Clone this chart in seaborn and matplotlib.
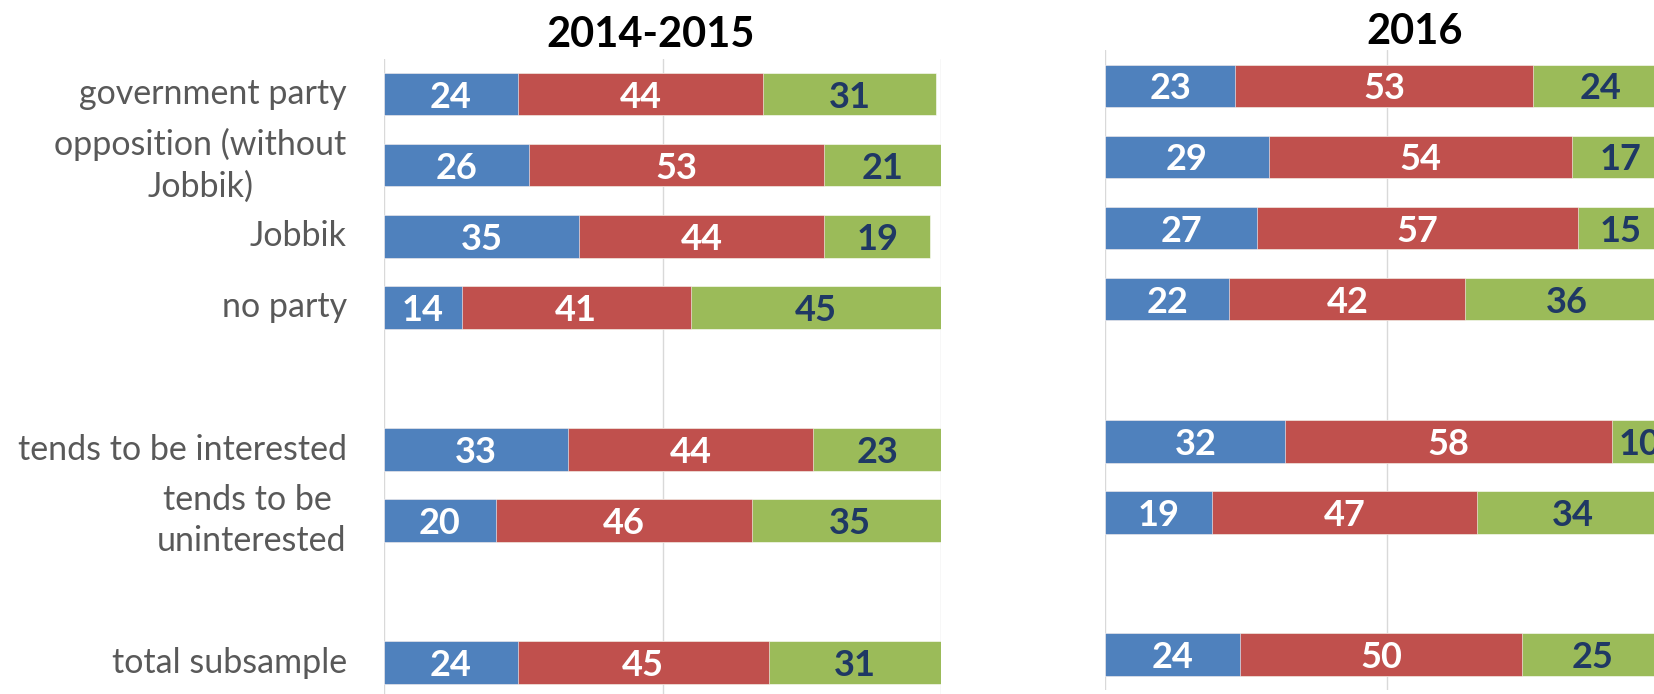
import numpy as np
import pandas as pd
import matplotlib
matplotlib.use("Agg")
import matplotlib.pyplot as plt
import matplotlib.transforms as mtransforms
import seaborn as sns

# Groups (blank entries leave gaps between blocks of bars)
categories = ["government party", "opposition (without\nJobbik)", "Jobbik", "no party",
              "tends to be interested", "tends to be \nuninterested", "total subsample"]
row_order = ["government party", "opposition (without\nJobbik)", "Jobbik", "no party", " ",
             "tends to be interested", "tends to be \nuninterested", "  ", "total subsample"]

# Shares (%) per group: first / second / third answer category
blue_1415 = [24, 26, 35, 14, 33, 20, 24]
red_1415 = [44, 53, 44, 41, 44, 46, 45]
green_1415 = [31, 21, 19, 45, 23, 35, 31]

blue_2016 = [23, 29, 27, 22, 32, 19, 24]
red_2016 = [53, 54, 57, 42, 58, 47, 50]
green_2016 = [24, 17, 15, 36, 10, 34, 25]

panel_titles = ["2014-2015", "2016"]

BLUE, RED, GREEN = "#4F81BD", "#C0504D", "#9BBB59"
NAVY = "#1F3864"
GRID = "#D9D9D9"
TEXT_GREY = "#595959"

sns.set_style("white")
plt.rcParams["font.family"] = ["Lato", "DejaVu Sans"]

fig = plt.figure(figsize=(16.54, 6.94), dpi=100)
ax_left = fig.add_axes([0.2322, -0.0063, 0.3369, 0.922])
ax_right = fig.add_axes([0.6683, 0.0055, 0.3402, 0.922])


def draw_panel(ax, blue, red, green, show_labels):
    df = pd.DataFrame({"group": categories, "blue": blue, "red": red, "green": green})
    df["c1"] = df["blue"]
    df["c2"] = df["blue"] + df["red"]
    df["c3"] = df["blue"] + df["red"] + df["green"]
    # stacked look: draw cumulative totals from longest to shortest
    for col, colr in [("c3", GREEN), ("c2", RED), ("c1", BLUE)]:
        sns.barplot(data=df, y="group", x=col, order=row_order, orient="h",
                    color=colr, saturation=1, width=0.6, errorbar=None, ax=ax,
                    edgecolor="white", linewidth=0.4)
    pos = {name: i for i, name in enumerate(row_order)}
    for _, r in df.iterrows():
        y = pos[r["group"]]
        segs = [(r["blue"], 0, "white"), (r["red"], r["blue"], "white"),
                (r["green"], r["blue"] + r["red"], NAVY)]
        for v, start, tc in segs:
            ax.text(start + v / 2, y, f"{v:d}", ha="center", va="center_baseline",
                    color=tc, fontsize=26, fontweight="bold", clip_on=False)
    ax.set_xlim(0, 100)
    ax.set_ylim(len(row_order) - 0.5, -0.5)
    ax.set_xticks([0, 50, 100])
    ax.set_xticklabels([])
    ax.grid(axis="x", color=GRID, linewidth=1.0)
    ax.grid(axis="y", visible=False)
    ax.set_axisbelow(True)
    ax.set_xlabel("")
    ax.set_ylabel("")
    for s in ax.spines.values():
        s.set_visible(False)
    ax.tick_params(axis="both", length=0)
    ax.set_yticks(range(len(row_order)))
    ax.set_yticklabels([])
    if show_labels:
        # group names: right-aligned block, centred lines
        trans = mtransforms.blended_transform_factory(ax.transAxes, ax.transData)
        for name in categories:
            ax.text(-0.067, pos[name], name, transform=trans, ha="right",
                    va="center", multialignment="center", fontsize=24.5,
                    color=TEXT_GREY, linespacing=1.35, clip_on=False)


draw_panel(ax_left, blue_1415, red_1415, green_1415, True)
draw_panel(ax_right, blue_2016, red_2016, green_2016, False)

fig.text(651 / 1654, 1 - 35 / 694, panel_titles[0], ha="center", va="center",
         fontsize=30, fontweight="bold", color="black")
fig.text(1415 / 1654, 1 - 31.6 / 694, panel_titles[1], ha="center", va="center",
         fontsize=30, fontweight="bold", color="black")

fig.savefig("out.png", dpi=100, facecolor="white")
